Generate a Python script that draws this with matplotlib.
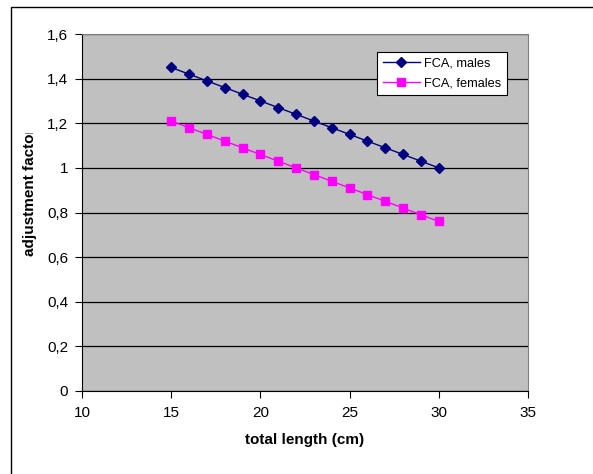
import matplotlib.pyplot as plt
from matplotlib.patches import Rectangle
from matplotlib.transforms import Bbox
from matplotlib.ticker import FuncFormatter

plt.rcParams['font.family'] = ['Liberation Sans', 'DejaVu Sans']

lengths = [15, 16, 17, 18, 19, 20, 21, 22, 23, 24, 25, 26, 27, 28, 29, 30]
fca_males = [1.45, 1.42, 1.39, 1.36, 1.33, 1.30, 1.27, 1.24, 1.21, 1.18, 1.15, 1.12, 1.09, 1.06, 1.03, 1.00]
fca_females = [1.21, 1.18, 1.15, 1.12, 1.09, 1.06, 1.03, 1.00, 0.97, 0.94, 0.91, 0.88, 0.85, 0.82, 0.79, 0.76]

W, H = 593, 474
fig = plt.figure(figsize=(W / 100, H / 100), dpi=100)
ax = fig.add_axes([82 / W, 1 - 391 / H, (528 - 82) / W, (391 - 34) / H])
ax.set_facecolor('#C0C0C0')

ax.plot(lengths, fca_males, color='#000080', lw=1, marker='D', markersize=5, label='FCA, males')
ax.plot(lengths, fca_females, color='#FF00FF', lw=1, marker='s', markersize=5.5, label='FCA, females')

ax.set_xlim(10, 35)
ax.set_ylim(0, 1.6)
ax.set_xticks([10, 15, 20, 25, 30, 35])
ax.set_yticks([0, 0.2, 0.4, 0.6, 0.8, 1.0, 1.2, 1.4, 1.6])
ax.yaxis.set_major_formatter(FuncFormatter(lambda v, p: ('%g' % round(v, 1)).replace('.', ',')))
ax.grid(axis='y', color='black', lw=0.9)
ax.set_axisbelow(True)
ax.tick_params(direction='out', length=5, width=0.8, labelsize=11)
ax.tick_params(axis='x', pad=6)
ax.tick_params(axis='y', pad=5)
for s in ('top', 'right'):
    ax.spines[s].set_color('#808080')
for s in ('left', 'bottom'):
    ax.spines[s].set_color('black')

ax.set_xlabel('total length (cm)', fontsize=11, fontweight='bold', labelpad=9)

# y label is cut off at the top, as in the exported sheet
ylab = fig.text(30 / W, 1 - 256 / H, 'adjustment factor', rotation=90, fontsize=11,
                fontweight='bold', ha='center', va='bottom')
ylab.set_clip_on(True)
ylab.set_clip_box(fig.transFigure.transform_bbox(Bbox([[0, 0], [1, 1 - 133 / H]])))

leg = ax.legend(loc='upper left', bbox_to_anchor=(377 / W, 1 - 52 / H), bbox_transform=fig.transFigure,
                fontsize=9.2, frameon=True, fancybox=False, edgecolor='black', framealpha=1,
                handlelength=2.9, borderpad=0.45, labelspacing=0.6, handletextpad=0.3, borderaxespad=0)
leg.get_frame().set_linewidth(0.8)

fig.patches.append(Rectangle((11 / W, -0.1), 1.1, 1.1 - 7 / H, transform=fig.transFigure,
                             fill=False, edgecolor='black', lw=1))

fig.savefig('out.png', dpi=100)
